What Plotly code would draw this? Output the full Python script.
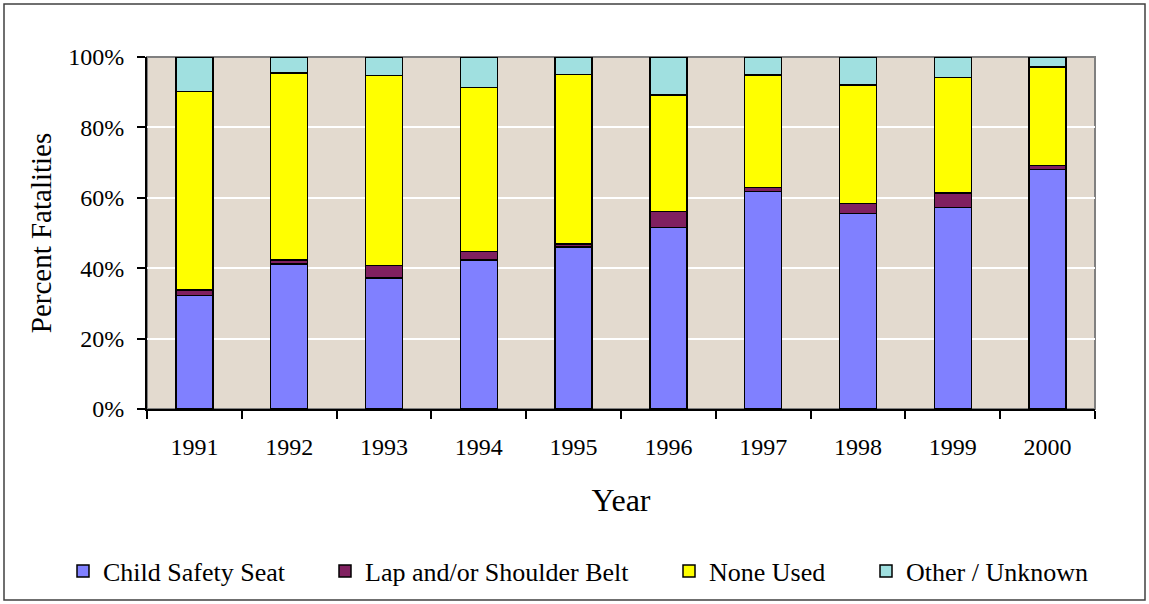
import plotly.graph_objects as go

years = ["1991", "1992", "1993", "1994", "1995", "1996", "1997", "1998", "1999", "2000"]
child_seat = [32.2, 41.2, 37.2, 42.4, 46.0, 51.5, 61.8, 55.5, 57.2, 68.0]
lap_belt = [1.6, 1.2, 3.5, 2.3, 0.9, 4.6, 1.1, 2.9, 4.1, 1.2]
none_used = [56.4, 53.0, 54.1, 46.7, 48.1, 33.1, 32.0, 33.6, 32.9, 27.9]
other_unknown = [9.8, 4.6, 5.2, 8.6, 5.0, 10.8, 5.1, 8.0, 5.8, 2.9]

series_names = ["Child Safety Seat", "Lap and/or Shoulder Belt", "None Used", "Other / Unknown"]
series_values = [child_seat, lap_belt, none_used, other_unknown]
series_colors = ["#8080FF", "#802060", "#FFFF00", "#A0E0E0"]

font = "Liberation Serif, Times New Roman, serif"

FW, FH = 1149, 604
# plot area in pixels
L, R, T, B = 147, 1095, 57, 409
W, H = R - L, B - T

def px_x(p):
    return (p - L) / W

def px_y(p):
    return (B - p) / H

legend_starts = [63, 325, 669, 866]
legend_ids = ["legend", "legend2", "legend3", "legend4"]

fig = go.Figure()
for name, vals, col, lid in zip(series_names, series_values, series_colors, legend_ids):
    fig.add_trace(go.Bar(
        x=years, y=vals, name=name, legend=lid, showlegend=True,
        marker=dict(color=col, line=dict(color="black", width=1.5)),
    ))

legend_common = dict(
    orientation="h", yanchor="middle", xanchor="left",
    xref="container", yref="container",
    font=dict(family=font, size=26), itemwidth=30,
    bgcolor="rgba(0,0,0,0)",
)
layout_legends = {}
for lid, start in zip(legend_ids, legend_starts):
    layout_legends[lid] = dict(legend_common, x=start / FW, y=(FH - 571) / FH)

fig.update_layout(
    barmode="stack",
    bargap=0.61,
    width=FW, height=FH,
    margin=dict(l=L, r=FW - R, t=T, b=FH - B, autoexpand=False),
    paper_bgcolor="white",
    plot_bgcolor="#E3DACF",
    font=dict(family=font, size=24, color="black"),
    xaxis=dict(
        title=dict(text="Year", font=dict(family=font, size=32), standoff=30),
        showline=True, linecolor="black", linewidth=2,
        ticks="outside", tickson="boundaries", ticklen=8, tickcolor="black", tickwidth=2,
        tickfont=dict(family=font, size=24), ticklabelstandoff=15,
        showgrid=False,
    ),
    yaxis=dict(
        title=dict(text="Percent Fatalities", font=dict(family=font, size=29), standoff=8),
        range=[0, 100], dtick=20, ticksuffix="%",
        showline=True, linecolor="black", linewidth=2,
        ticks="outside", ticklen=8, tickcolor="black", tickwidth=2,
        tickfont=dict(family=font, size=24), ticklabelstandoff=8,
        showgrid=True, gridcolor="white", gridwidth=2,
        zeroline=False,
    ),
    shapes=[
        dict(type="rect", xref="paper", yref="paper", x0=0, x1=1, y0=0, y1=1,
             line=dict(color="#808080", width=2), layer="below"),
        dict(type="rect", xref="paper", yref="paper",
             x0=px_x(4), x1=px_x(FW - 4), y0=px_y(FH - 4), y1=px_y(4),
             line=dict(color="#404040", width=1.5)),
    ],
    **layout_legends,
)

fig.write_html("out.html", config={"displayModeBar": False},
               post_script="document.body.style.margin='0';")
